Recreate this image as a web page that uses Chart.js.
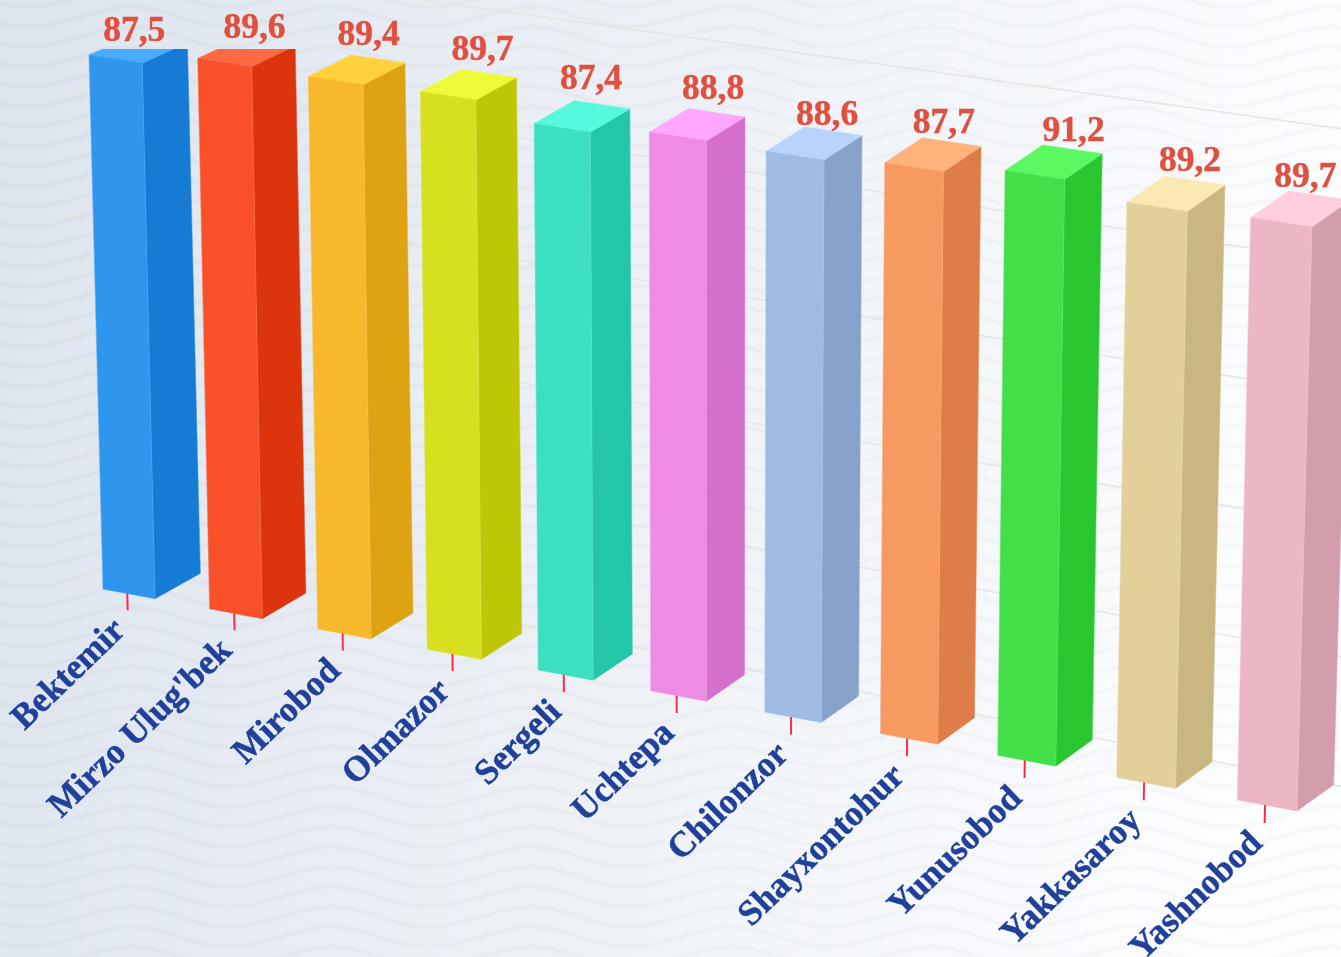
<!DOCTYPE html>
<html>
<head>
<meta charset="utf-8">
<title>Chart</title>
<script src="https://cdn.jsdelivr.net/npm/chart.js@4/dist/chart.umd.js"></script>
<style>
  html, body { margin: 0; padding: 0; overflow: hidden; background: #f0f3f7; }
  canvas { display: block; }
</style>
</head>
<body>
<canvas id="chart" width="1341" height="957"></canvas>
<script>
var categories = ['Bektemir', "Mirzo Ulug'bek", 'Mirobod', 'Olmazor', 'Sergeli', 'Uchtepa', 'Chilonzor', 'Shayxontohur', 'Yunusobod', 'Yakkasaroy', 'Yashnobod'];
// bar heights as drawn; the Shayxontohur bar stands taller than its printed 87,7
var values = [87.5, 89.6, 89.4, 89.7, 87.4, 88.8, 88.6, 89.6, 91.2, 89.2, 89.7];
var printedValues = ['87,5', '89,6', '89,4', '89,7', '87,4', '88,8', '88,6', '87,7', '91,2', '89,2', '89,7'];

var frontColors = ['#2f96ee', '#f9502a', '#f7b92b', '#d7e01f', '#3ddfc1', '#ed8be5', '#9fbbe3', '#f69a62', '#43df49', '#e2d09b', '#ecb6c4'];
var sideColors = ['#167bd4', '#dc350e', '#dea312', '#bec706', '#24c6a8', '#d470cc', '#86a2ca', '#dd7e48', '#2ac630', '#c9b782', '#d39dab'];
var topColors = ['#49acff', '#ff6944', '#ffd13d', '#eefa38', '#56f9db', '#ffa6ff', '#b8d4fc', '#ffb37b', '#5cf862', '#fbe9b4', '#ffcfdd'];

// value labels do not sit exactly on the top face centre in the original
var labelNudgeX = [-14, -2, 2, 4, -1, 6, 3, 1, 10, 4, -5];
var labelNudgeY = [-1, -4, -3, -3, -5, -4, 4, 0, 1, -1, 0];

// where the flat chart lands on screen: [bar index, bar edge, value, screen x, screen y]
var frontAnchors = [[0, -1, 0, 103, 589], [0, -1, 87.5, 89, 55], [10, 1, 0, 1297, 811], [10, 1, 89.7, 1312, 227]];
var backAnchors = [[2, 1, 0, 413, 613], [2, 1, 89.4, 405, 63], [9, 1, 0, 1212, 762], [9, 1, 89.2, 1225, 185]];

var perspectivePlugin = {
  id: 'perspective',

  beforeDraw: function (chart) {
    _drawBackground(chart.ctx, chart.width, chart.height);
  },

  beforeDatasetsDraw: function (chart) {
    var ctx = chart.ctx;
    var bars = chart.getDatasetMeta(0).data;
    var xScale = chart.scales.x;
    var yScale = chart.scales.y;
    var front = _planeFromAnchors(frontAnchors, bars, yScale);
    var back = _planeFromAnchors(backAnchors, bars, yScale);

    _drawWalls(ctx, chart, yScale);

    ctx.save();
    ctx.beginPath();
    ctx.rect(0, 49, chart.width, chart.height);
    ctx.clip();
    bars.forEach(function (bar, i) {
      var l = bar.x - bar.width / 2, r = bar.x + bar.width / 2;
      var fl = _apply(front, l, bar.y), fr = _apply(front, r, bar.y);
      var bl = _apply(front, l, bar.base), br = _apply(front, r, bar.base);
      var kl = _apply(back, l, bar.y), kr = _apply(back, r, bar.y), kb = _apply(back, r, bar.base);

      _face(ctx, sideColors[i], [fr, kr, kb, br]);
      _face(ctx, topColors[i], [fl, kl, kr, fr]);
      _face(ctx, frontColors[i], [fl, fr, br, bl]);

      // thin light seams down the bar edges
      ctx.strokeStyle = 'rgba(255,255,255,0.1)';
      ctx.lineWidth = 1;
      ctx.beginPath();
      ctx.moveTo(fl.x, fl.y); ctx.lineTo(bl.x, bl.y);
      ctx.moveTo(fr.x, fr.y); ctx.lineTo(br.x, br.y);
      ctx.moveTo(kr.x, kr.y); ctx.lineTo(kb.x, kb.y);
      ctx.stroke();
    });
    ctx.restore();

    bars.forEach(function (bar, i) {
      var l = bar.x - bar.width / 2, r = bar.x + bar.width / 2;
      var tx = xScale.getPixelForTick(i) - 2;
      var tickTop = _apply(front, tx, bar.base);
      var tickEnd = _apply(front, tx, bar.base + 27);

      ctx.strokeStyle = '#ff2a48';
      ctx.lineWidth = 2;
      ctx.beginPath();
      ctx.moveTo(tickTop.x, tickTop.y);
      ctx.lineTo(tickEnd.x, tickEnd.y);
      ctx.stroke();

      ctx.save();
      ctx.translate(tickEnd.x - 1, tickEnd.y + 22);
      ctx.rotate(-44 * Math.PI / 180);
      _text(ctx, categories[i], 'right', '#20409a', 0, 0);
      ctx.restore();

      var a = _apply(front, l, bar.y), c = _apply(back, r, bar.y);
      _text(ctx, printedValues[i], 'center', '#e0503e', (a.x + c.x) / 2 + 10 + labelNudgeX[i], Math.max(42, (a.y + c.y) / 2 - 22) + labelNudgeY[i]);
    });

    return false;
  }
};

new Chart(document.getElementById('chart'), {
  type: 'bar',
  data: {
    labels: categories,
    datasets: [{ data: values, backgroundColor: frontColors, barPercentage: 1, categoryPercentage: 0.49 }]
  },
  options: {
    responsive: false,
    devicePixelRatio: 1,
    animation: false,
    layout: { padding: 0 },
    plugins: { legend: { display: false }, tooltip: { enabled: false } },
    scales: {
      x: { display: false },
      y: { display: false, min: 0, max: 100, ticks: { stepSize: 20 } }
    }
  },
  plugins: [perspectivePlugin]
});

/* Private */

function _text(ctx, text, align, color, x, y) {
  ctx.font = 'bold 35.5px "Liberation Serif"';
  ctx.fillStyle = color;
  ctx.strokeStyle = color;
  ctx.lineWidth = 0.5;
  ctx.textAlign = align;
  ctx.textBaseline = 'alphabetic';
  ctx.fillText(text, x, y);
  ctx.strokeText(text, x, y);
}

function _drawBackground(ctx, width, height) {
  var gradient = ctx.createLinearGradient(0, 0, width, height * 0.25);
  gradient.addColorStop(0, '#dde4ee');
  gradient.addColorStop(0.5, '#edf1f6');
  gradient.addColorStop(1, '#fcfdff');
  ctx.fillStyle = gradient;
  ctx.fillRect(0, 0, width, height);

  [[6, 0.014], [3, 0.02]].forEach(function (pen) {
    ctx.strokeStyle = 'rgba(110,115,125,' + pen[1] + ')';
    ctx.lineWidth = pen[0];
    for (var row = -23; row < height + 20; row += 20) {
      ctx.beginPath();
      for (var x = 0; x <= width; x += 5) {
        var y = row - 10 * Math.cos((x - 130) * 2 * Math.PI / 200);
        if (x === 0) ctx.moveTo(x, y); else ctx.lineTo(x, y);
      }
      ctx.stroke();
    }
  });
}

function _drawWalls(ctx, chart, yScale) {
  var area = chart.chartArea;
  var wall = _homography(
    [[area.left, yScale.getPixelForValue(0)], [area.left, yScale.getPixelForValue(100)], [area.right, yScale.getPixelForValue(0)], [area.right, yScale.getPixelForValue(100)]],
    [[133, 548], [115, -43], [1385, 795], [1385, 135]]
  );

  ctx.strokeStyle = '#e6e4e2';
  ctx.lineWidth = 1.5;
  yScale.ticks.forEach(function (tick) {
    var py = yScale.getPixelForValue(tick.value);
    var start = _apply(wall, area.left, py);
    var end = _apply(wall, area.right, py);
    var share = tick.value / 100;

    ctx.beginPath();
    ctx.moveTo(start.x, start.y);
    ctx.lineTo(end.x, end.y);
    ctx.moveTo(start.x, start.y);
    ctx.lineTo(75 - 17.5 * share, 582 - 607 * share);
    ctx.stroke();
  });
}

function _face(ctx, color, points) {
  ctx.fillStyle = color;
  ctx.strokeStyle = color;
  ctx.lineWidth = 0.5;
  ctx.beginPath();
  points.forEach(function (p, i) {
    if (i === 0) ctx.moveTo(p.x, p.y); else ctx.lineTo(p.x, p.y);
  });
  ctx.closePath();
  ctx.fill();
  ctx.stroke();
}

function _planeFromAnchors(anchors, bars, yScale) {
  var src = anchors.map(function (a) {
    return [bars[a[0]].x + a[1] * bars[a[0]].width / 2, yScale.getPixelForValue(a[2])];
  });
  var dst = anchors.map(function (a) { return [a[3], a[4]]; });
  return _homography(src, dst);
}

function _apply(h, x, y) {
  var w = h[6] * x + h[7] * y + 1;
  return { x: (h[0] * x + h[1] * y + h[2]) / w, y: (h[3] * x + h[4] * y + h[5]) / w };
}

function _homography(src, dst) {
  var m = [];
  src.forEach(function (s, i) {
    var d = dst[i];
    m.push([s[0], s[1], 1, 0, 0, 0, -s[0] * d[0], -s[1] * d[0], d[0]]);
    m.push([0, 0, 0, s[0], s[1], 1, -s[0] * d[1], -s[1] * d[1], d[1]]);
  });
  for (var c = 0; c < 8; c++) {
    var pivot = c;
    for (var r = c + 1; r < 8; r++) {
      if (Math.abs(m[r][c]) > Math.abs(m[pivot][c])) pivot = r;
    }
    var tmp = m[c]; m[c] = m[pivot]; m[pivot] = tmp;
    for (var k = 0; k < 8; k++) {
      if (k === c) continue;
      var f = m[k][c] / m[c][c];
      for (var j = c; j < 9; j++) m[k][j] -= f * m[c][j];
    }
  }
  return m.map(function (row, i) { return row[8] / row[i]; });
}
</script>
</body>
</html>
